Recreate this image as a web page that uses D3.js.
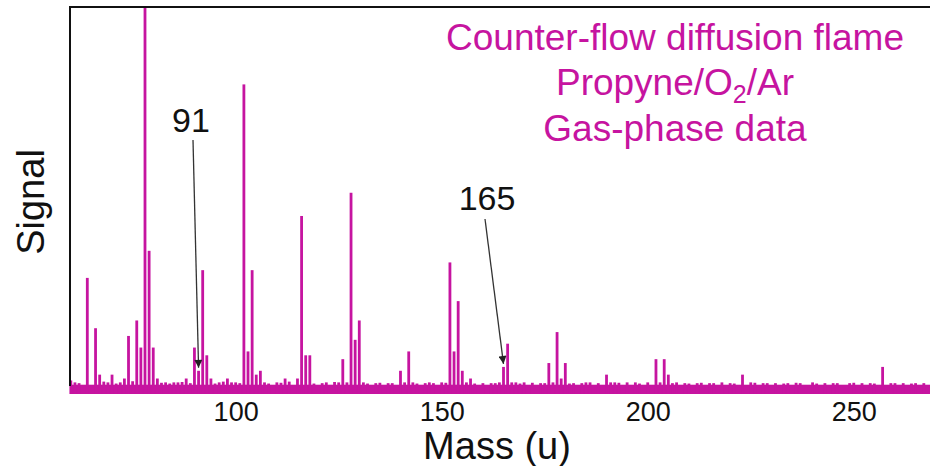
<!DOCTYPE html>
<html>
<head>
<meta charset="utf-8">
<script src="https://cdn.jsdelivr.net/npm/d3@7"></script>
<style>
  body { margin: 0; background: #fff; }
  text { font-family: "Liberation Sans", Arial, sans-serif; }
</style>
</head>
<body>
<div id="chart"></div>
<script>
// Stick spectrum (mass in u, signal in % of the 78 peak)
var masses = [60, 61, 64, 66, 67, 69, 70, 72, 73, 74, 76, 77, 78, 79, 80, 81, 83, 85, 86, 88,
  90, 91, 92, 93, 94, 96, 98, 99, 100, 102, 103, 104, 105, 106, 110, 112, 115, 116, 117, 118,
  122, 125, 126, 127, 128, 129, 130, 131, 134, 137, 140, 141, 142, 143, 146, 148, 150, 152, 153, 154,
  155, 156, 157, 160, 163, 165, 166, 167, 168, 170, 174, 176, 177, 178, 179, 180, 182, 184, 186, 190,
  191, 192, 195, 197, 202, 203, 204, 205, 207, 209, 212, 215, 218, 220, 223, 225, 228, 231, 234, 237,
  240, 243, 246, 249, 252, 254, 257, 259, 262, 265];
var signals = [3.5, 3, 30, 17, 5, 3, 5, 3, 4, 15, 19, 12, 100, 37, 12, 4, 3, 3, 3, 4,
  12, 6, 32, 10, 4, 3, 4, 3, 3, 80, 11, 32, 5, 6, 3, 4, 4, 46, 10, 10,
  3, 3, 9, 3, 52, 14, 19, 3, 2.8, 2.8, 6, 3, 11, 3, 2.8, 2.8, 3, 34, 11, 24,
  6, 3, 4, 2.8, 2.8, 7, 13, 3, 3, 3, 2.8, 8, 3, 16, 4, 8, 2.8, 2.8, 3, 5,
  3, 3, 3, 3, 9, 3, 9, 5, 3, 2.8, 2.8, 2.8, 3, 2.8, 5, 3, 2.8, 2.8, 2.8, 2.8,
  3, 2.8, 2.8, 2.8, 2.8, 2.8, 7, 2.8, 2.8, 2.8];

// small bumps on top of the noise band
var noiseMasses = [62, 68, 71, 75, 82, 84, 87, 89, 95, 97, 101, 107, 108, 111, 113, 119, 121, 124, 132, 135,
  138, 144, 147, 151, 158, 162, 164, 169, 172, 175, 181, 185, 188, 193, 198, 200, 206, 210, 213, 216,
  221, 226, 229, 233, 236, 241, 245, 250, 255, 260, 264, 267];
var noiseSignals = [2.8, 3.2, 2.7, 3.3, 2.9, 2.7, 3.1, 2.8, 2.7, 3.2, 2.8, 3, 2.7, 2.9, 3.2, 2.7, 2.8, 3.1, 2.7, 2.9,
  2.8, 2.7, 3, 2.9, 2.7, 2.8, 3, 2.7, 2.9, 2.8, 2.7, 3, 2.8, 2.9, 2.7, 3, 2.8, 2.7, 2.9, 2.8,
  2.7, 2.9, 2.8, 2.7, 2.9, 2.7, 2.8, 2.9, 2.7, 2.8, 2.7, 2.8];
var noiseLevel = 2.4;

var massTicks = [100, 150, 200, 250];
var titleLines = ["Counter-flow diffusion flame", "Propyne/O2/Ar", "Gas-phase data"];
var labels = [91, 165];

var svgWidth = 930;
var svgHeight = 466;
var magenta = "#c614a0";

var svg = d3.select("#chart")
  .append("svg")
  .attr("width", svgWidth)
  .attr("height", svgHeight);

// scales
var xScale = d3.scaleLinear()
  .domain([59.8, 268.5])
  .range([70, 930]);

var yScale = d3.scaleLinear()
  .domain([0, 100])
  .range([394, 7]);

var spectrum = masses.map(function(m, i) {
  return { mass: m, signal: signals[i] };
});
var noise = noiseMasses.map(function(m, i) {
  return { mass: m, signal: noiseSignals[i] };
});

// noise band along the bottom
svg.append("rect")
  .attr("x", xScale.range()[0])
  .attr("y", yScale(noiseLevel))
  .attr("width", xScale.range()[1] - xScale.range()[0])
  .attr("height", yScale(0) - yScale(noiseLevel))
  .attr("fill", magenta);

// sticks
svg.selectAll(".stick")
  .data(spectrum.concat(noise))
  .enter()
  .append("rect")
  .attr("class", "stick")
  .attr("x", d => xScale(d.mass) - 1.4)
  .attr("y", d => yScale(d.signal))
  .attr("width", 2.8)
  .attr("height", d => yScale(0) - yScale(d.signal))
  .attr("fill", magenta);

// frame: left and top lines
svg.append("line")
  .attr("x1", 70).attr("x2", 70)
  .attr("y1", yScale(100)).attr("y2", yScale(0) - 8)
  .attr("stroke", "#111")
  .attr("stroke-width", 2);

svg.append("line")
  .attr("x1", 69).attr("x2", 930)
  .attr("y1", yScale(100)).attr("y2", yScale(100))
  .attr("stroke", "#111")
  .attr("stroke-width", 2);

// x axis (labels only)
var bottomAxis = d3.axisBottom(xScale)
  .tickValues(massTicks)
  .tickSize(0)
  .tickPadding(8);

var xAxisG = svg.append("g")
  .attr("transform", `translate(0, ${yScale(0)})`)
  .call(bottomAxis);
xAxisG.select(".domain").remove();
xAxisG.selectAll("text")
  .attr("font-family", "Liberation Sans, Arial, sans-serif")
  .attr("font-size", 27)
  .attr("fill", "#111");

// axis titles
svg.append("text")
  .attr("x", 497)
  .attr("y", 459)
  .attr("text-anchor", "middle")
  .attr("font-size", 38)
  .attr("fill", "#111")
  .text("Mass (u)");

svg.append("text")
  .attr("transform", "translate(44, 202) rotate(-90)")
  .attr("text-anchor", "middle")
  .attr("font-size", 38)
  .attr("fill", "#111")
  .text("Signal");

// title block
var title = svg.append("text")
  .attr("text-anchor", "middle")
  .attr("font-size", 37)
  .attr("fill", magenta);

title.append("tspan").attr("x", 675).attr("y", 50).text(titleLines[0]);
var l2 = title.append("tspan").attr("x", 675).attr("y", 95);
l2.append("tspan").text("Propyne/O");
l2.append("tspan").attr("font-size", 25).attr("dy", 8).text("2");
l2.append("tspan").attr("dy", -8).text("/Ar");
title.append("tspan").attr("x", 675).attr("y", 141).text(titleLines[2]);

// arrow annotations
svg.append("defs").append("marker")
  .attr("id", "head")
  .attr("viewBox", "0 0 10 10")
  .attr("refX", 10).attr("refY", 5)
  .attr("markerWidth", 9).attr("markerHeight", 8)
  .attr("markerUnits", "userSpaceOnUse")
  .attr("orient", "auto")
  .append("path")
  .attr("d", "M0,0L10,5L0,10Z")
  .attr("fill", "#222");

var labelPos = { 91: { tx: 191, ty: 132, sx: 193, sy: 140 }, 165: { tx: 487, ty: 210, sx: 485, sy: 219 } };

labels.forEach(function(m) {
  var s = signals[masses.indexOf(m)];
  var p = labelPos[m];
  svg.append("text")
    .attr("x", p.tx)
    .attr("y", p.ty)
    .attr("text-anchor", "middle")
    .attr("font-size", 34)
    .attr("fill", "#111")
    .text(m);
  svg.append("line")
    .attr("x1", p.sx)
    .attr("y1", p.sy)
    .attr("x2", xScale(m))
    .attr("y2", yScale(s) - 3)
    .attr("stroke", "#333")
    .attr("stroke-width", 1.3)
    .attr("marker-end", "url(#head)");
});
</script>
</body>
</html>
